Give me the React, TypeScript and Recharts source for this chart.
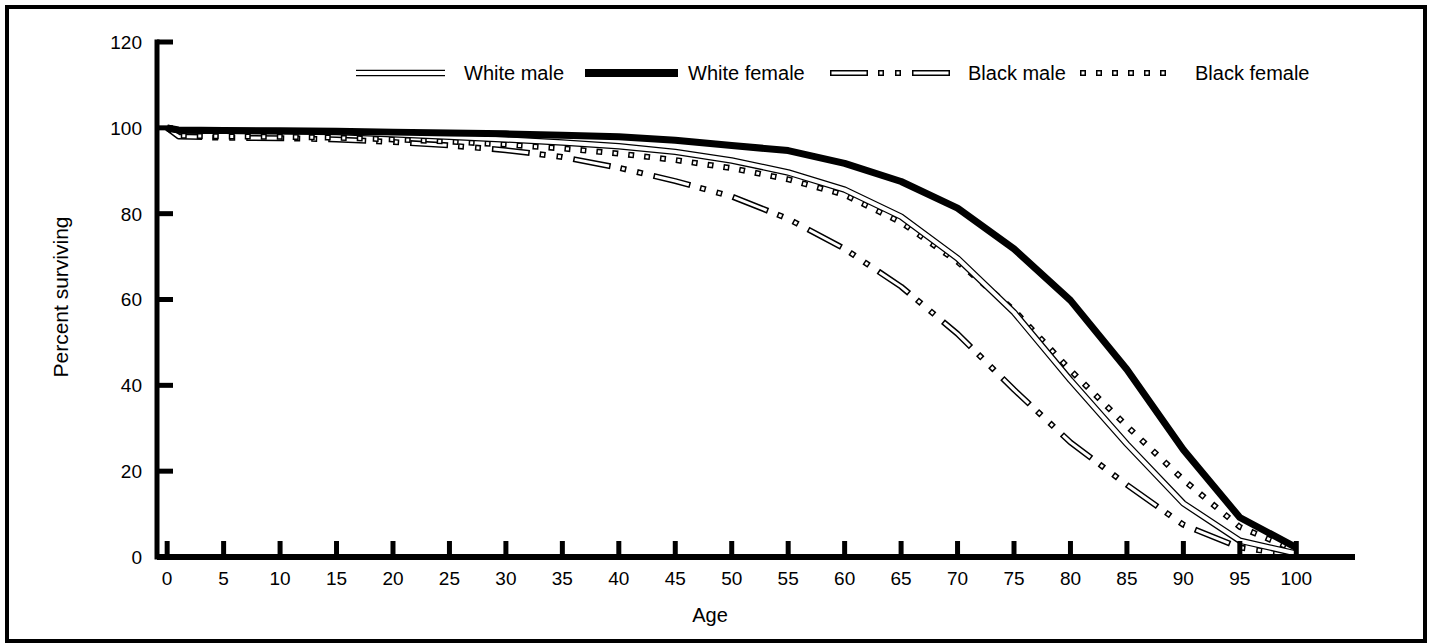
import React from 'react';
import { LineChart, Line, XAxis, YAxis, Legend } from 'recharts';

// survivorship by age
const AGES = [0, 1, 5, 10, 15, 20, 25, 30, 35, 40, 45, 50, 55, 60, 65, 70, 75, 80, 85, 90, 95, 100];
const WHITE_MALE = [100, 99.4, 99.3, 99.2, 99.0, 98.5, 97.9, 97.3, 96.6, 95.7, 94.4, 92.4, 89.6, 85.6, 79.3, 69.6, 57.0, 41.2, 26.3, 12.5, 3.8, 0.8];
const WHITE_FEMALE = [100, 99.5, 99.4, 99.3, 99.2, 99.0, 98.8, 98.6, 98.3, 97.9, 97.1, 95.9, 94.7, 91.7, 87.5, 81.3, 71.8, 59.8, 43.7, 25.0, 9.2, 2.2];
const BLACK_MALE = [100, 98.0, 97.7, 97.6, 97.3, 96.7, 95.9, 94.8, 93.2, 90.7, 87.6, 84.0, 78.8, 71.8, 63.0, 52.0, 39.0, 26.7, 16.8, 7.5, 2.2, 0.4];
const BLACK_FEMALE = [100, 98.2, 98.0, 97.9, 97.7, 97.3, 96.8, 96.1, 95.2, 94.0, 92.5, 90.6, 88.0, 84.4, 78.0, 68.8, 57.5, 43.5, 30.5, 18.0, 7.0, 1.5];

const X_TICKS = [0, 5, 10, 15, 20, 25, 30, 35, 40, 45, 50, 55, 60, 65, 70, 75, 80, 85, 90, 95, 100];
const Y_TICKS = [0, 20, 40, 60, 80, 100, 120];

const SERIES = [
  { key: 'wm', name: 'White male' },
  { key: 'wf', name: 'White female' },
  { key: 'bm', name: 'Black male' },
  { key: 'bf', name: 'Black female' },
];

const data = AGES.map((age, i) => ({
  age,
  wm: WHITE_MALE[i],
  wf: WHITE_FEMALE[i],
  bm: BLACK_MALE[i],
  bf: BLACK_FEMALE[i],
}));

const FONT = '"Liberation Sans", Arial, Helvetica, sans-serif';

// hollow line styles = black stroke with a narrower white stroke laid on top
const STROKES: Record<string, any[]> = {
  wm: [
    { stroke: '#000', strokeWidth: 6.5 },
    { stroke: '#fff', strokeWidth: 4 },
  ],
  wf: [{ stroke: '#000', strokeWidth: 7 }],
  bm: [
    { stroke: '#000', strokeWidth: 6, strokeDasharray: '38 10 6 11 6 11' },
    { stroke: '#fff', strokeWidth: 3, strokeDasharray: '35 13 3 14 3 14', strokeDashoffset: -1.5 },
  ],
  bf: [
    { stroke: '#000', strokeWidth: 6, strokeDasharray: '6 10' },
    { stroke: '#fff', strokeWidth: 3, strokeDasharray: '3 13', strokeDashoffset: -1.5 },
  ],
};

const DRAW_ORDER = ['bm', 'bf', 'wm', 'wf'];

const LEGEND_POS: Record<string, { sx: number; sw: number; tx: number }> = {
  wm: { sx: 356, sw: 89, tx: 464 },
  wf: { sx: 585, sw: 93, tx: 688 },
  bm: { sx: 830, sw: 125, tx: 968 },
  bf: { sx: 1080, sw: 92, tx: 1195 },
};
const LEGEND_Y = 73;

const Y_GAP = 15;
const X_GAP = 13;

const YTick = (props: any) => {
  const { x, y, payload } = props;
  const axisX = x + Y_GAP;
  return (
    <g>
      <line x1={axisX} x2={axisX + 16} y1={y} y2={y} stroke="#000" strokeWidth={5} />
      <text x={x} y={y} dy="0.36em" textAnchor="end" fontFamily={FONT} fontSize={19} fill="#000">
        {payload.value}
      </text>
    </g>
  );
};

const XTick = (props: any) => {
  const { x, y, payload } = props;
  const axisY = y - X_GAP;
  return (
    <g>
      <line x1={x} x2={x} y1={axisY} y2={axisY - 16} stroke="#000" strokeWidth={5} />
      <text x={x} y={y} dy={15} textAnchor="middle" fontFamily={FONT} fontSize={19} fill="#000">
        {payload.value}
      </text>
    </g>
  );
};

const LegendBox = () => (
  <div style={{ position: 'relative', width: 1432, height: 100, fontFamily: FONT, fontSize: 20, color: '#000' }}>
    {SERIES.map(s => {
      const p = LEGEND_POS[s.key];
      return (
        <React.Fragment key={s.key}>
          <svg style={{ position: 'absolute', left: p.sx, top: LEGEND_Y - 6 }} width={p.sw} height={12}>
            {STROKES[s.key].map((st, i) => (
              <line key={i} x1={0} x2={p.sw} y1={6} y2={6} {...st} strokeWidth={s.key === 'wf' ? 8 : st.strokeWidth} />
            ))}
          </svg>
          <span style={{ position: 'absolute', left: p.tx, top: LEGEND_Y - 12, lineHeight: '24px', whiteSpace: 'nowrap' }}>
            {s.name}
          </span>
        </React.Fragment>
      );
    })}
  </div>
);

export default function App() {
  return (
    <div style={{ position: 'absolute', left: 0, top: 0, width: 1432, height: 644, background: '#fff' }}>
      <div
        style={{
          position: 'absolute',
          left: 5,
          top: 5,
          width: 1422,
          height: 638,
          border: '4px solid #000',
          boxSizing: 'border-box',
        }}
      />
      <div style={{ position: 'absolute', left: 0, top: 0 }}>
        <LineChart width={1432} height={644} data={data} margin={{ top: 42, right: 77, bottom: 47, left: 97 }}>
          <XAxis
            dataKey="age"
            type="number"
            domain={[-0.9, 105.2]}
            allowDataOverflow
            ticks={X_TICKS}
            interval={0}
            height={40}
            axisLine={{ stroke: '#000', strokeWidth: 6 }}
            tickLine={false}
            tickSize={0}
            tickMargin={X_GAP}
            tick={<XTick />}
            label={{
              content: () => (
                <text x={710} y={622} textAnchor="middle" fontFamily={FONT} fontSize={20} fill="#000">
                  Age
                </text>
              ),
            }}
          />
          <YAxis
            type="number"
            domain={[0, 120]}
            ticks={Y_TICKS}
            interval={0}
            width={60}
            axisLine={{ stroke: '#000', strokeWidth: 5, strokeLinecap: 'square' }}
            tickLine={false}
            tickSize={0}
            tickMargin={Y_GAP}
            tick={<YTick />}
            label={{
              content: () => (
                <text
                  x={68}
                  y={297}
                  transform="rotate(-90 68 297)"
                  textAnchor="middle"
                  fontFamily={FONT}
                  fontSize={21}
                  fill="#000"
                >
                  Percent surviving
                </text>
              ),
            }}
          />
          <Legend
            layout="horizontal"
            verticalAlign="middle"
            align="center"
            wrapperStyle={{ left: 0, top: 0, width: 1432 }}
            content={() => <LegendBox />}
          />
          {DRAW_ORDER.flatMap(key =>
            STROKES[key].map((st, i) => (
              <Line
                key={`${key}-${i}`}
                type="linear"
                dataKey={key}
                dot={false}
                activeDot={false}
                legendType="none"
                isAnimationActive={false}
                strokeLinejoin="round"
                {...st}
              />
            ))
          )}
        </LineChart>
      </div>
    </div>
  );
}
